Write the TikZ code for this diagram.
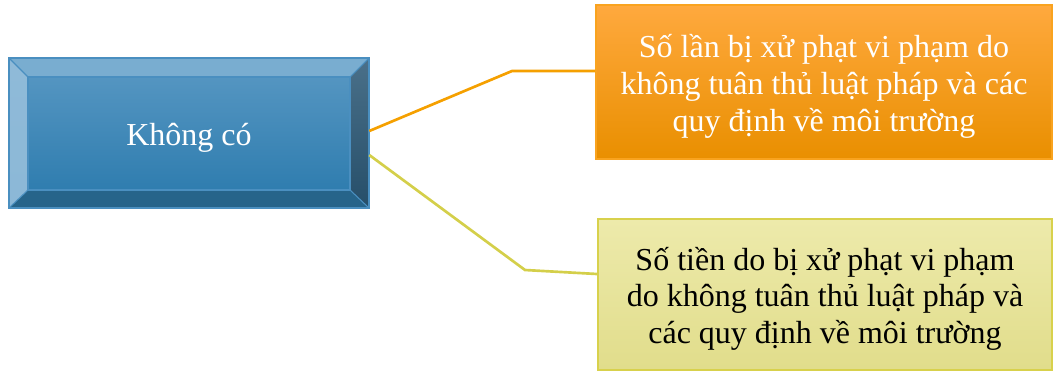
\documentclass[tikz,border=0pt]{standalone}
\usepackage{fontspec}
\setmainfont{Liberation Serif}
\definecolor{bevtop}{HTML}{79ADD0}
\definecolor{bevleft}{HTML}{8FBAD8}
\definecolor{bevright}{HTML}{2A5775}
\definecolor{bevbot}{HTML}{26648A}
\definecolor{blutop}{HTML}{5495C1}
\definecolor{blubot}{HTML}{2F7DAF}
\definecolor{bluedge}{HTML}{4A8FC0}
\definecolor{orgtop}{HTML}{FFA93E}
\definecolor{orgbot}{HTML}{E98F00}
\definecolor{orgedge}{HTML}{F9A31F}
\definecolor{yeltop}{HTML}{EDEAAB}
\definecolor{yelbot}{HTML}{E1DD8B}
\definecolor{yeledge}{HTML}{D8D14C}
\definecolor{oline}{HTML}{F5A000}
\definecolor{yline}{HTML}{D4CF4A}
\newcommand{\lowtext}[1]{\raisebox{-3.75pt}[\height][\depth]{\begin{tabular}{@{}c@{}}#1\end{tabular}}}
\tikzset{
  txt/.style={font=\fontsize{24}{27.5}\selectfont, align=center, inner sep=0pt},
  obox/.style={rectangle, draw=orgedge, line width=1.5pt, top color=orgtop, bottom color=orgbot, text=white, txt},
  ybox/.style={rectangle, draw=yeledge, line width=1.5pt, top color=yeltop, bottom color=yelbot, text=black, txt},
  oconn/.style={draw=oline, line width=2pt},
  yconn/.style={draw=yline, line width=2pt},
}
\begin{document}
\begin{tikzpicture}[x=0.75pt,y=-0.75pt]
\useasboundingbox (0,0) rectangle (1053,372);
% bevelled blue box
\fill[bevtop] (9,58) -- (369,58) -- (350,77) -- (28,77) -- cycle;
\shade[top color=bevleft, bottom color=bevleft!85!bevtop] (9,58) -- (28,77) -- (28,190) -- (9,208) -- cycle;
\shade[top color=bevright!85!white, bottom color=bevright!90!black] (369,58) -- (369,208) -- (350,190) -- (350,77) -- cycle;
\fill[bevbot] (9,208) -- (28,190) -- (350,190) -- (369,208) -- cycle;
\shade[top color=blutop, bottom color=blubot] (28,77) rectangle (350,190);
\draw[bluedge, line width=1pt] (28,77) rectangle (350,190);
\draw[bluedge, line width=0.8pt] (9,58) -- (28,77) (369,58) -- (350,77) (9,208) -- (28,190) (369,208) -- (350,190);
\draw[bluedge, line width=1.5pt] (9,58) rectangle (369,208);
\node[txt, text=white, minimum width=270pt, minimum height=112.5pt] (a) at (189,133) {\lowtext{Không có}};
% right boxes
\node[obox, minimum width=342pt, minimum height=115.5pt] (b) at (824,82)
  {\lowtext{Số lần bị xử phạt vi phạm do\\không tuân thủ luật pháp và các\\quy định về môi trường}};
\node[ybox, minimum width=340.5pt, minimum height=113.25pt] (c) at (825,294.5)
  {\lowtext{Số tiền do bị xử phạt vi phạm\\do không tuân thủ luật pháp và\\các quy định về môi trường}};
% connectors
\draw[oconn] ([yshift=1.5pt]a.east) -- (512,71) -- (b.west |- 512,71);
\draw[yconn] ([yshift=-16.5pt]a.east) -- (525,270) -- (c.west |- 525,274);
\end{tikzpicture}
\end{document}
